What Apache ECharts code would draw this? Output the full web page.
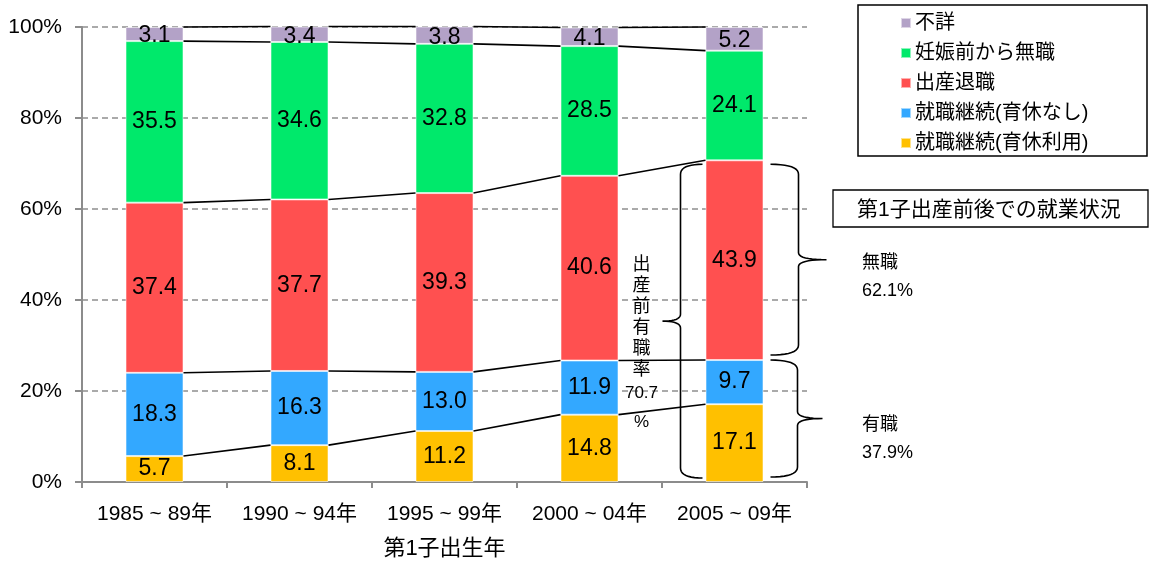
<!DOCTYPE html>
<html>
<head>
<meta charset="utf-8">
<script src="https://cdn.jsdelivr.net/npm/echarts@6/dist/echarts.min.js"></script>
<style>
  html, body { margin: 0; padding: 0; background: #fff; }
  #chart { width: 1152px; height: 565px; }
</style>
</head>
<body>
<div id="chart"></div>
<script>
// 第1子出生年別 出産前後の就業状況 (%)
const categories = ['1985 ~ 89年', '1990 ~ 94年', '1995 ~ 99年', '2000 ~ 04年', '2005 ~ 09年'];
const seriesNames = ['就職継続(育休利用)', '就職継続(育休なし)', '出産退職', '妊娠前から無職', '不詳'];
const ikukyuRiyo = [5.7, 8.1, 11.2, 14.8, 17.1];
const ikukyuNashi = [18.3, 16.3, 13.0, 11.9, 9.7];
const shussanTaishoku = [37.4, 37.7, 39.3, 40.6, 43.9];
const ninshinMaeMushoku = [35.5, 34.6, 32.8, 28.5, 24.1];
const fusho = [3.1, 3.4, 3.8, 4.1, 5.2];
const yTickLabels = ['0%', '20%', '40%', '60%', '80%', '100%'];
const xAxisTitle = '第1子出生年';
const boxTitle = '第1子出産前後での就業状況';

const colors = ['#FFC000', '#33A8FF', '#FF5050', '#00E96B', '#B3A2C7'];
const FONT = "'Liberation Sans', 'Noto Sans CJK JP', sans-serif";
const BAR_FRACTION = 0.40;

const values = [ikukyuRiyo, ikukyuNashi, shussanTaishoku, ninshinMaeMushoku, fusho];

// running totals at the top of each stacked segment
const cumulative = [];
values.forEach((arr, k) => {
  cumulative.push(arr.map((v, i) => (k ? cumulative[k - 1][i] : 0) + v));
});

// joining segments between neighbouring bars at each boundary
const joinData = [];
cumulative.forEach(level => {
  for (let i = 0; i < categories.length - 1; i++) {
    joinData.push([i, level[i], level[i + 1]]);
  }
});

const chart = echarts.init(document.getElementById('chart'), null, { renderer: 'canvas' });

const barSeries = values.map((arr, k) => ({
  name: seriesNames[k],
  type: 'bar',
  stack: 'total',
  data: arr,
  barWidth: (BAR_FRACTION * 100) + '%',
  itemStyle: { color: colors[k], borderColor: 'rgba(255,255,255,0.55)', borderWidth: 1 },
  label: {
    show: true,
    position: 'inside',
    offset: k === values.length - 1 ? [0, 2] : [0, 0],
    color: '#000',
    fontFamily: FONT,
    fontSize: 23,
    formatter: p => p.value.toFixed(1)
  },
  emphasis: { disabled: true }
}));

const option = {
  animation: false,
  backgroundColor: '#fff',
  textStyle: { fontFamily: FONT },
  grid: { left: 82, right: 345, top: 27, bottom: 83, containLabel: false, outerBoundsMode: 'none' },
  legend: {
    orient: 'vertical',
    left: 895,
    top: 8,
    itemWidth: 10,
    itemHeight: 10,
    itemGap: 10,
    icon: 'rect',
    data: seriesNames.slice().reverse(),
    textStyle: { fontFamily: FONT, fontSize: 20, lineHeight: 20, color: '#000', padding: [0, 0, 0, -1] },
    selectedMode: false
  },
  xAxis: {
    type: 'category',
    data: categories,
    name: xAxisTitle,
    nameLocation: 'middle',
    nameGap: 56,
    nameTextStyle: { fontFamily: FONT, fontSize: 22, color: '#000' },
    axisLine: { show: true, lineStyle: { color: '#8c8c8c', width: 2 } },
    axisTick: { show: true, alignWithLabel: false, length: 6, lineStyle: { color: '#8c8c8c', width: 2 } },
    axisLabel: { fontFamily: FONT, fontSize: 21, color: '#000', margin: 22, interval: 0 }
  },
  yAxis: {
    type: 'value',
    min: 0,
    max: 100,
    interval: 20,
    axisLine: { show: true, lineStyle: { color: '#8c8c8c', width: 2 } },
    axisTick: { show: true, inside: false, length: 7, lineStyle: { color: '#8c8c8c', width: 2 } },
    axisLabel: {
      fontFamily: FONT, fontSize: 21, color: '#000', margin: 20,
      formatter: v => yTickLabels[Math.round(v / 20)]
    },
    splitLine: { show: true, lineStyle: { color: '#8f8f8f', width: 1.5, type: [6, 4] } }
  },
  series: barSeries.concat([{
    name: 'joins',
    type: 'custom',
    data: joinData,
    encode: { x: 0, y: [1, 2] },
    z: 5,
    silent: true,
    renderItem: (params, api) => {
      const i = api.value(0);
      const p0 = api.coord([i, api.value(1)]);
      const p1 = api.coord([i + 1, api.value(2)]);
      const half = api.size([1, 0])[0] * BAR_FRACTION / 2;
      return {
        type: 'line',
        shape: { x1: p0[0] + half, y1: p0[1], x2: p1[0] - half, y2: p1[1] },
        style: { stroke: '#000', lineWidth: 1.6 }
      };
    }
  }])
};

chart.setOption(option);

// annotations around the latest bar, positioned from its data values
const last = categories.length - 1;
const toPx = (i, v) => chart.convertToPixel({ gridIndex: 0 }, [i, v]);
const cx = toPx(last, 0)[0];
const band = toPx(1, 0)[0] - toPx(0, 0)[0];
const barLeft = cx - band * BAR_FRACTION / 2;
const barRight = cx + band * BAR_FRACTION / 2;

const employedBefore = ikukyuRiyo[last] + ikukyuNashi[last] + shussanTaishoku[last];
const keptJob = ikukyuRiyo[last] + ikukyuNashi[last];
const quitShare = (shussanTaishoku[last] / employedBefore * 100).toFixed(1);
const keptShare = (keptJob / employedBefore * 100).toFixed(1);

const yTop = toPx(last, employedBefore)[1];
const yMid = toPx(last, keptJob)[1];
const yZero = toPx(last, 0)[1];

// quadratic curve sampled into points
function quad(p0, c, p1, n) {
  const pts = [];
  for (let s = 0; s <= n; s++) {
    const t = s / n, u = 1 - t;
    pts.push([u * u * p0[0] + 2 * u * t * c[0] + t * t * p1[0],
              u * u * p0[1] + 2 * u * t * c[1] + t * t * p1[1]]);
  }
  return pts;
}

// curly brace: tips at xTip, spine at xLine, point at xPoint
function bracePoints(xTip, xLine, xPoint, y1, y2) {
  const m = (y1 + y2) / 2;
  return [].concat(
    quad([xTip, y1], [xLine, y1], [xLine, y1 + 10], 10),
    quad([xLine, m - 7], [xLine, m], [xPoint, m], 10),
    quad([xPoint, m], [xLine, m], [xLine, m + 7], 10),
    quad([xLine, y2 - 10], [xLine, y2], [xTip, y2], 10)
  );
}

function txt(text, x, y, size, align, extra) {
  return {
    type: 'text',
    silent: true,
    z: 10,
    style: Object.assign({
      text: text, x: x, y: y,
      fill: '#000',
      fontFamily: FONT,
      fontSize: size,
      textAlign: align, align: align,
      textVerticalAlign: 'middle', verticalAlign: 'middle'
    }, extra || {})
  };
}

const braceStyle = { stroke: '#000', lineWidth: 1.6, fill: null };
const b1Top = yTop + 4, b1Bot = yMid - 5;
const b2Top = yMid, b2Bot = yZero - 5;
const lTop = yTop + 4, lBot = yZero - 4;
const textX = barLeft - 64;

chart.setOption({
  graphic: [
    // legend frame
    { type: 'rect', silent: true, z: 0, shape: { x: 858, y: 5, width: 289, height: 151 },
      style: { fill: 'none', stroke: '#000', lineWidth: 1.5 } },
    // caption box
    { type: 'rect', silent: true, shape: { x: 833, y: 190, width: 315, height: 37 },
      style: { fill: '#fff', stroke: '#000', lineWidth: 1.3 } },
    txt(boxTitle, 857, 210, 21, 'left'),
    // braces
    { type: 'polyline', silent: true, z: 8,
      shape: { points: bracePoints(barLeft - 3, barLeft - 25, barLeft - 43, lTop, lBot) }, style: braceStyle },
    { type: 'polyline', silent: true, z: 8,
      shape: { points: bracePoints(barRight + 7, barRight + 35, barRight + 63, b1Top, b1Bot) }, style: braceStyle },
    { type: 'polyline', silent: true, z: 8,
      shape: { points: bracePoints(barRight + 7, barRight + 34, barRight + 59, b2Top, b2Bot) }, style: braceStyle },
    // vertical caption for the pre-birth employment rate
    txt('出\n産\n前\n有\n職\n率', textX, 318, 18, 'center', { lineHeight: 21 }),
    txt(employedBefore.toFixed(1), textX, 393, 17, 'center'),
    txt('%', textX, 422, 17, 'center'),
    // shares of those employed before the birth
    txt('無職', 862, (b1Top + b1Bot) / 2 + 3, 18, 'left'),
    txt(quitShare + '%', 862, (b1Top + b1Bot) / 2 + 31, 18, 'left'),
    txt('有職', 862, (b2Top + b2Bot) / 2 + 7, 18, 'left'),
    txt(keptShare + '%', 862, (b2Top + b2Bot) / 2 + 35, 18, 'left')
  ]
});
</script>
</body>
</html>
